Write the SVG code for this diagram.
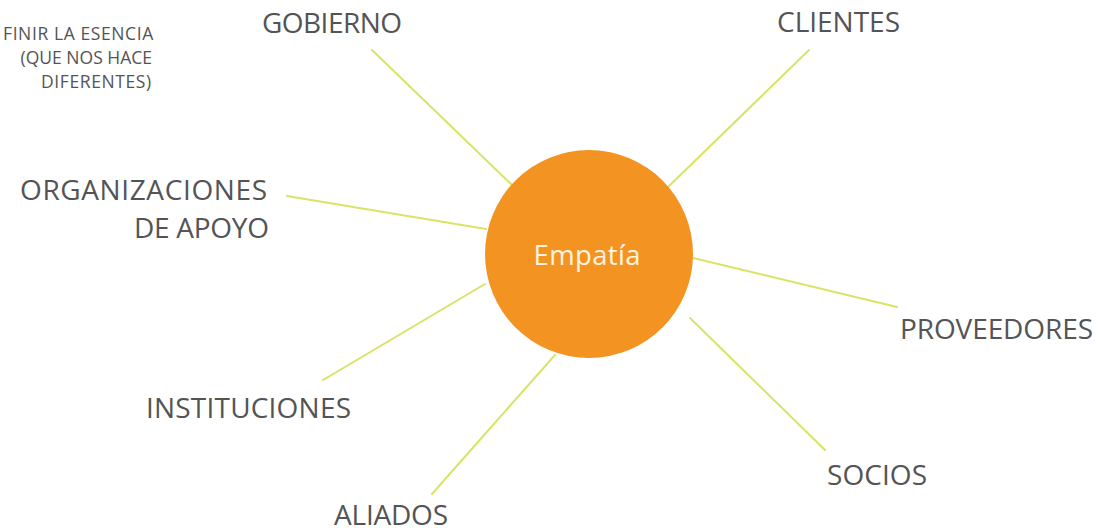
<svg xmlns="http://www.w3.org/2000/svg" width="1109" height="532" viewBox="0 0 1109 532">
<style>
.lbl{font-family:"Open Sans","Liberation Sans",sans-serif;font-size:28px;font-weight:500;fill:#545456}
.note{font-family:"Open Sans","Liberation Sans",sans-serif;font-size:17.5px;font-weight:500;fill:#545456}
.conn line{stroke:#d9e364;stroke-width:2;stroke-linecap:round}
</style>
<rect width="1109" height="532" fill="#ffffff"/>
<g id="connectors" class="conn">
<line x1="372" y1="50" x2="513" y2="186"/>
<line x1="809" y1="50" x2="667" y2="188"/>
<line x1="287" y1="196" x2="486" y2="229"/>
<line x1="693" y1="258" x2="897" y2="307"/>
<line x1="690" y1="318" x2="825" y2="450"/>
<line x1="323" y1="380" x2="485" y2="284"/>
<line x1="432" y1="494" x2="555" y2="355"/>
</g>
<g id="center">
<circle cx="589" cy="254" r="104" fill="#f39422"/>
<text x="587" y="265" text-anchor="middle" font-family="'Open Sans','Liberation Sans',sans-serif" font-size="27.5" fill="#fdf3e0" textLength="107" lengthAdjust="spacing">Empatía</text>
</g>
<g id="note">
<text class="note" x="3" y="40" letter-spacing="0.6">FINIR LA ESENCIA</text>
<text class="note" x="152" y="64" text-anchor="end">(QUE NOS HACE</text>
<text class="note" x="41" y="88" letter-spacing="0.6">DIFERENTES)</text>
</g>
<g id="gobierno"><text class="lbl" x="262" y="33" textLength="140" lengthAdjust="spacing">GOBIERNO</text></g>
<g id="clientes"><text class="lbl" x="777" y="32" textLength="123" lengthAdjust="spacing">CLIENTES</text></g>
<g id="organizaciones">
<text class="lbl" x="20" y="200" textLength="247" lengthAdjust="spacing">ORGANIZACIONES</text>
<text class="lbl" x="134" y="238" textLength="135" lengthAdjust="spacing">DE APOYO</text>
</g>
<g id="proveedores"><text class="lbl" x="900" y="339" textLength="193" lengthAdjust="spacing">PROVEEDORES</text></g>
<g id="instituciones"><text class="lbl" x="146" y="418" textLength="205" lengthAdjust="spacing">INSTITUCIONES</text></g>
<g id="socios"><text class="lbl" x="827" y="485" textLength="100" lengthAdjust="spacing">SOCIOS</text></g>
<g id="aliados"><text class="lbl" x="334" y="525" textLength="114" lengthAdjust="spacing">ALIADOS</text></g>
</svg>
